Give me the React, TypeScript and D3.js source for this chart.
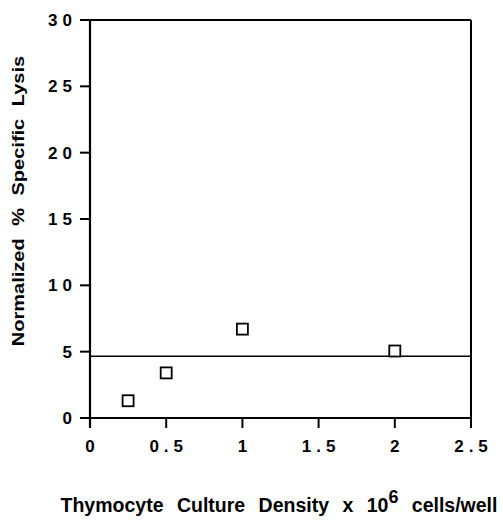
import React from "react";
import * as d3 from "d3";

const xTicks = [0, 0.5, 1, 1.5, 2, 2.5];
const xTickLabels = ["0", "0.5", "1", "1.5", "2", "2.5"];
const yTicks = [0, 5, 10, 15, 20, 25, 30];
const yTickLabels = ["0", "5", "10", "15", "20", "25", "30"];
const density = [0.25, 0.5, 1, 2];
const lysis = [1.3, 3.4, 6.7, 5.05];
const referenceLevel = 4.65;

const W = 503;
const H = 521;
const font = "'Liberation Sans', Arial, Helvetica, sans-serif";

export default function App() {
  const x = d3.scaleLinear().domain([0, 2.5]).range([90, 471]);
  const y = d3.scaleLinear().domain([0, 30]).range([418, 20]);
  const [x0, x1] = x.range();
  const [y0, y1] = y.range();
  const tickLen = 10;
  const sq = 11;
  const ls = 5;

  return (
    <svg width={W} height={H} style={{ position: "absolute", left: 0, top: 0, background: "#fff" }}>
      {/* frame */}
      <line x1={x0 - tickLen} x2={x1} y1={y1} y2={y1} stroke="#000" strokeWidth={2} />
      <line x1={x1} x2={x1} y1={y1} y2={y0 + tickLen} stroke="#000" strokeWidth={2} />
      <line x1={x0} x2={x0} y1={y1} y2={y0 + tickLen} stroke="#000" strokeWidth={2.2} />
      <line x1={x0 - tickLen} x2={x1} y1={y0} y2={y0} stroke="#000" strokeWidth={2.2} />
      {/* y ticks */}
      {yTicks.map((t, i) => (
        <g key={"y" + i}>
          <line x1={x0 - tickLen} x2={x0} y1={y(t)} y2={y(t)} stroke="#000" strokeWidth={2} />
          <text
            x={72 + ls}
            y={y(t)}
            dy="0.36em"
            textAnchor="end"
            fontFamily={font}
            fontWeight="bold"
            fontSize={17}
            letterSpacing={ls}
          >
            {yTickLabels[i]}
          </text>
        </g>
      ))}
      {/* x ticks */}
      {xTicks.map((t, i) => (
        <g key={"x" + i}>
          <line x1={x(t)} x2={x(t)} y1={y0} y2={y0 + tickLen} stroke="#000" strokeWidth={2} />
          <text
            x={x(t) + ls / 2}
            y={452}
            textAnchor="middle"
            fontFamily={font}
            fontWeight="bold"
            fontSize={17}
            letterSpacing={ls}
          >
            {xTickLabels[i]}
          </text>
        </g>
      ))}
      {/* reference line */}
      <line x1={x0} x2={x1} y1={y(referenceLevel)} y2={y(referenceLevel)} stroke="#000" strokeWidth={1.6} />
      {/* points */}
      {density.map((d, i) => (
        <rect
          key={"p" + i}
          x={x(d) - sq / 2}
          y={y(lysis[i]) - sq / 2}
          width={sq}
          height={sq}
          fill="#fff"
          stroke="#000"
          strokeWidth={1.8}
        />
      ))}
      {/* x label */}
      <text
        x={279}
        y={512}
        textAnchor="middle"
        fontFamily={font}
        fontWeight="bold"
        fontSize={19.5}
        wordSpacing={8}
      >
        <tspan>Thymocyte Culture Density x 10</tspan>
        <tspan dy={-9} fontSize={18}>6</tspan>
        <tspan dy={9}> cells/well</tspan>
      </text>
      {/* y label */}
      <g transform={`translate(23.5, 201) rotate(-90) scale(1, 0.8)`}>
        <text
          x={0}
          y={0}
          textAnchor="middle"
          fontFamily={font}
          fontWeight="bold"
          fontSize={20}
          wordSpacing={7}
        >
          Normalized % Specific Lysis
        </text>
      </g>
    </svg>
  );
}
